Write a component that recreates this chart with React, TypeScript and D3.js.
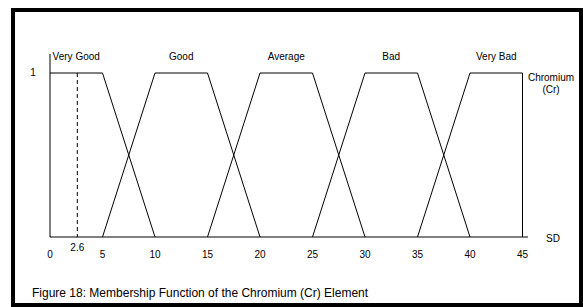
import React from 'react';
import * as d3 from 'd3';

const setNames = ['Very Good', 'Good', 'Average', 'Bad', 'Very Bad'];
// breakpoints of each trapezoid: [left foot, left shoulder, right shoulder, right foot]
const setPoints = [
  [0, 0, 5, 10],
  [5, 10, 15, 20],
  [15, 20, 25, 30],
  [25, 30, 35, 40],
  [35, 40, 45, 45],
];
const xTicks = [0, 5, 10, 15, 20, 25, 30, 35, 40, 45];
const markValue = 2.6;
const caption = 'Figure 18: Membership Function of the Chromium (Cr) Element';

const W = 583;
const H = 307;
const FONT = 'Arial, "Liberation Sans", sans-serif';

const App = () => {
  const x = d3.scaleLinear().domain([0, 45]).range([50, 522.5]);
  const y = d3.scaleLinear().domain([0, 1]).range([237, 73]);

  const line = d3.line<[number, number]>()
    .x(d => x(d[0]))
    .y(d => y(d[1]));

  const shapes = setPoints.map(p => {
    const pts: [number, number][] = [];
    if (p[0] !== p[1]) pts.push([p[0], 0]);
    pts.push([p[1], 1], [p[2], 1], [p[3], 0]);
    return pts;
  });

  return (
    <svg width={W} height={H} style={{ position: 'absolute', left: 0, top: 0 }}
      fontFamily={FONT} fontSize={10}>
      <rect x={0} y={0} width={W} height={H} fill='#fff' />
      <rect x={13} y={10} width={568} height={295} fill='none' stroke='#000' strokeWidth={4} />

      {/* axes */}
      <line x1={x(0)} x2={x(0)} y1={54} y2={y(0)} stroke='#000' />
      <line x1={x(0)} x2={528} y1={y(0)} y2={y(0)} stroke='#000' />

      {shapes.map((pts, i) => (
        <path key={i} d={line(pts) ?? ''} fill='none' stroke='#000' strokeWidth={1} />
      ))}

      <line x1={x(markValue)} x2={x(markValue)} y1={y(1)} y2={y(0)}
        stroke='#000' strokeDasharray='4,3' />
      <text x={x(markValue)} y={251} textAnchor='middle'>{markValue}</text>

      {xTicks.map(t => (
        <text key={t} x={x(t)} y={258} textAnchor='middle'>{t}</text>
      ))}
      <text x={33} y={76} textAnchor='middle'>1</text>

      {setNames.map((n, i) => (
        <text key={n} x={x((setPoints[i][1] + setPoints[i][2]) / 2)} y={60} textAnchor='middle'>{n}</text>
      ))}

      <text x={551} y={81} textAnchor='middle'>Chromium</text>
      <text x={551} y={93} textAnchor='middle'>(Cr)</text>
      <text x={553} y={242} textAnchor='middle'>SD</text>

      <text x={32} y={297} fontSize={12}>{caption}</text>
    </svg>
  );
};

export default App;
